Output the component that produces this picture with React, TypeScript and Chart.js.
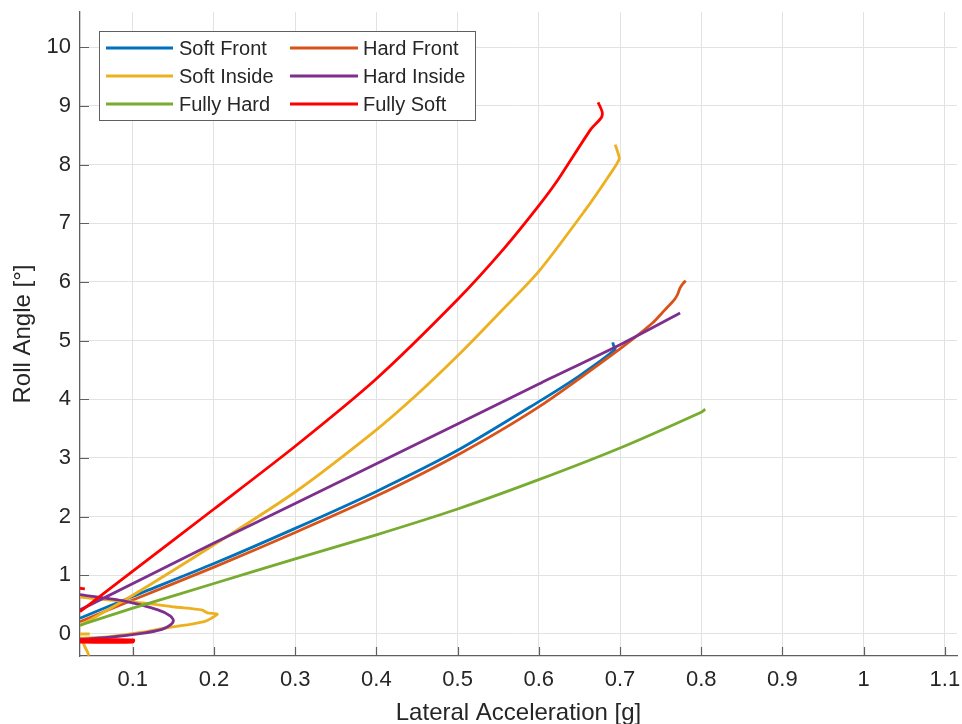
import React, { useEffect, useRef } from "react";
import { Chart, registerables } from "chart.js";

Chart.register(...registerables);

// ---- Axis ticks ----
const xTicks = [0.1, 0.2, 0.3, 0.4, 0.5, 0.6, 0.7, 0.8, 0.9, 1.0, 1.1];
const yTicks = [0, 1, 2, 3, 4, 5, 6, 7, 8, 9, 10];
const xRange = [0.035, 1.115];
const yRange = [-0.375, 10.6];

// ---- Series (lateral acceleration [g], roll angle [deg]) ----
const softFront = [
  [0.035, 0.27], [0.1, 0.64], [0.2, 1.2], [0.3, 1.8], [0.4, 2.43], [0.5, 3.13],
  [0.6, 3.96], [0.65, 4.4], [0.694, 4.85], [0.692, 4.92], [0.691, 4.97],
];

const hardFront = [
  [0.035, 0.21], [0.1, 0.58], [0.2, 1.14], [0.3, 1.73], [0.4, 2.35], [0.5, 3.05],
  [0.6, 3.87], [0.7, 4.86], [0.74, 5.3], [0.755, 5.52], [0.767, 5.7], [0.771, 5.79],
  [0.774, 5.9], [0.778, 5.98], [0.781, 6.02],
];

const softInside = [
  [0.035, 0.14], [0.1, 0.66], [0.2, 1.52], [0.3, 2.42], [0.4, 3.48], [0.45, 4.08],
  [0.5, 4.74], [0.55, 5.45], [0.6, 6.18], [0.658, 7.24], [0.685, 7.78], [0.699, 8.09],
  [0.697, 8.22], [0.694, 8.34],
];
const softInsideLoop = [
  [0.035, 0.63], [0.069, 0.58], [0.111, 0.53], [0.152, 0.46], [0.185, 0.41],
  [0.192, 0.36], [0.204, 0.34], [0.197, 0.27], [0.188, 0.21], [0.164, 0.15],
  [0.139, 0.1], [0.111, 0.03], [0.069, -0.05], [0.035, -0.07],
];
const softInsideDash = [[0.035, 0.0], [0.047, 0.0]];
const softInsideTail = [[0.039, -0.15], [0.041, -0.22], [0.044, -0.3], [0.046, -0.37]];

const hardInside = [
  [0.035, 0.41], [0.2, 1.55], [0.4, 2.9], [0.6, 4.26], [0.7, 4.93], [0.774, 5.47],
];
const hardInsideLoop = [
  [0.035, 0.67], [0.09, 0.56], [0.131, 0.41], [0.146, 0.31], [0.15, 0.23],
  [0.146, 0.15], [0.136, 0.08], [0.111, 0.01], [0.069, -0.06], [0.035, -0.09],
];

const fullyHard = [
  [0.035, 0.15], [0.1, 0.44], [0.2, 0.86], [0.3, 1.28], [0.4, 1.69], [0.5, 2.13],
  [0.6, 2.63], [0.7, 3.17], [0.8, 3.78], [0.805, 3.83],
];

const fullySoft = [
  [0.035, 0.38], [0.1, 1.07], [0.2, 2.13], [0.3, 3.2], [0.4, 4.35], [0.5, 5.7],
  [0.556, 6.55], [0.6, 7.3], [0.624, 7.75], [0.664, 8.6], [0.677, 8.8],
  [0.678, 8.9], [0.673, 9.06],
];
const fullySoftBar = [[0.035, -0.1], [0.101, -0.1], [0.1, -0.14], [0.035, -0.14]];
const fullySoftDash = [[0.035, 0.78], [0.041, 0.77]];

const seriesLabels = ["Soft Front", "Hard Front", "Soft Inside", "Hard Inside", "Fully Hard", "Fully Soft"];
const seriesColors = ["#0072BD", "#D95319", "#EDB120", "#7E2F8E", "#77AC30", "#FF0000"];

const FONT = "'Liberation Sans', Arial, Helvetica, sans-serif";
const TEXT = "#262626";

function joinSegments(...segs: number[][][]) {
  const out: { x: number; y: number | null }[] = [];
  segs.forEach((seg, i) => {
    if (i > 0) out.push({ x: seg[0][0], y: null });
    seg.forEach(([x, y]) => out.push({ x, y }));
  });
  return out;
}

function noScalePadding(s: any) {
  s.paddingTop = 0;
  s.paddingBottom = 0;
  s.paddingLeft = 0;
  s.paddingRight = 0;
}

const inwardTicks = {
  id: "inwardTicks",
  beforeDatasetsDraw(chart: any) {
    const { ctx, chartArea } = chart;
    const xs = chart.scales.x;
    const ys = chart.scales.y;
    const len = 9;
    ctx.save();
    ctx.strokeStyle = "#5f5f5f";
    ctx.lineWidth = 1.2;
    ctx.beginPath();
    xs.ticks.forEach((t: any) => {
      const px = Math.round(xs.getPixelForValue(t.value)) + 0.5;
      ctx.moveTo(px, chartArea.bottom);
      ctx.lineTo(px, chartArea.bottom - len);
    });
    ys.ticks.forEach((t: any) => {
      const py = Math.round(ys.getPixelForValue(t.value)) + 0.5;
      ctx.moveTo(chartArea.left, py);
      ctx.lineTo(chartArea.left + len, py);
    });
    ctx.stroke();
    ctx.restore();
  },
};

const boxLegend = {
  id: "boxLegend",
  afterDraw(chart: any) {
    const { ctx } = chart;
    const left = 99, top = 31, right = 475, bottom = 120;
    ctx.save();
    ctx.fillStyle = "#ffffff";
    ctx.fillRect(left, top, right - left, bottom - top);
    ctx.strokeStyle = "#5f5f5f";
    ctx.lineWidth = 1;
    ctx.strokeRect(left + 0.5, top + 0.5, right - left, bottom - top);
    const cols = [{ l0: 106, l1: 173, tx: 179 }, { l0: 290, l1: 358, tx: 363 }];
    const rows = [48, 76, 104];
    ctx.font = `20px ${FONT}`;
    ctx.textBaseline = "middle";
    ctx.textAlign = "left";
    chart.data.datasets.forEach((ds: any, i: number) => {
      const c = cols[i % 2];
      const y = rows[Math.floor(i / 2)];
      ctx.strokeStyle = ds.borderColor;
      ctx.lineWidth = 3;
      ctx.beginPath();
      ctx.moveTo(c.l0, y);
      ctx.lineTo(c.l1, y);
      ctx.stroke();
      ctx.fillStyle = TEXT;
      ctx.fillText(ds.label, c.tx, y + 1);
    });
    ctx.restore();
  },
};

export default function App() {
  const ref = useRef<HTMLCanvasElement | null>(null);

  useEffect(() => {
    if (!ref.current) return;
    const seriesData = [
      joinSegments(softFront),
      joinSegments(hardFront),
      joinSegments(softInside, softInsideLoop, softInsideDash, softInsideTail),
      joinSegments(hardInside, hardInsideLoop),
      joinSegments(fullyHard),
      joinSegments(fullySoft, fullySoftBar, fullySoftDash),
    ];
    const n = seriesLabels.length;
    const chart = new Chart(ref.current, {
      type: "line",
      data: {
        datasets: seriesLabels.map((label, i) => ({
          label,
          data: seriesData[i],
          borderColor: seriesColors[i],
          backgroundColor: seriesColors[i],
          borderWidth: 2.8,
          pointRadius: 0,
          tension: 0.25,
          spanGaps: false,
          fill: false,
          order: n - i,
        })),
      },
      options: {
        animation: false,
        responsive: false,
        devicePixelRatio: 1,
        layout: { padding: { left: 0, top: 12, right: 5, bottom: 0 } },
        plugins: { legend: { display: false }, tooltip: { enabled: false } },
        scales: {
          x: {
            type: "linear",
            min: xRange[0],
            max: xRange[1],
            afterBuildTicks: (s: any) => {
              s.ticks = xTicks.map((v) => ({ value: v }));
            },
            afterFit: (s: any) => {
              s.height = 68;
              noScalePadding(s);
            },
            grid: { color: "#e2e2e2", lineWidth: 1, drawTicks: false, tickLength: 0 },
            border: { display: true, color: "#5f5f5f", width: 1.3 },
            ticks: {
              padding: 11,
              color: TEXT,
              font: { family: FONT, size: 22 },
              maxRotation: 0,
              autoSkip: false,
              callback: (v: any) => String(Math.round(Number(v) * 10) / 10),
            },
            title: {
              display: true,
              text: "Lateral Acceleration [g]",
              color: TEXT,
              font: { family: FONT, size: 24, lineHeight: 0.9 },
              padding: { top: 0, bottom: 0 },
            },
          },
          y: {
            type: "linear",
            min: yRange[0],
            max: yRange[1],
            afterBuildTicks: (s: any) => {
              s.ticks = yTicks.map((v) => ({ value: v }));
            },
            afterFit: (s: any) => {
              s.width = 80;
              noScalePadding(s);
            },
            grid: { color: "#e2e2e2", lineWidth: 1, drawTicks: false, tickLength: 0 },
            border: { display: true, color: "#5f5f5f", width: 1.3 },
            ticks: {
              padding: 9,
              color: TEXT,
              font: { family: FONT, size: 22 },
              autoSkip: false,
              callback: (v: any) => String(v),
            },
            title: {
              display: true,
              text: "Roll Angle [°]",
              color: TEXT,
              font: { family: FONT, size: 24, lineHeight: 0.9 },
              padding: { top: 13, bottom: 0 },
            },
          },
        },
      },
      plugins: [inwardTicks, boxLegend],
    } as any);
    return () => chart.destroy();
  }, []);

  return (
    <div style={{ position: "absolute", left: 0, top: 0, width: 962, height: 724, background: "#fff" }}>
      <canvas ref={ref} width={962} height={724} style={{ width: 962, height: 724, display: "block" }} />
    </div>
  );
}
